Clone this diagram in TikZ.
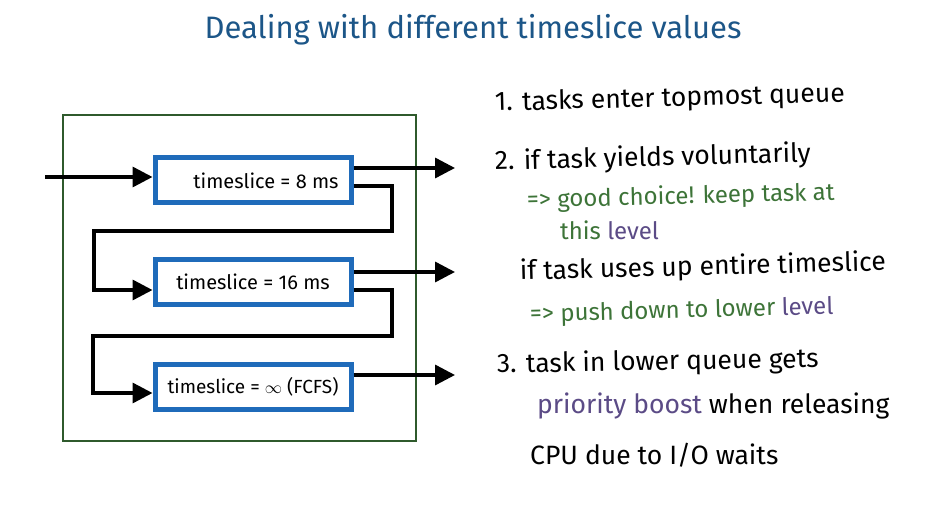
\documentclass[tikz,border=0pt]{standalone}
\usepackage{fontspec}
\setmainfont{Fira Sans}
\usetikzlibrary{arrows.meta,calc}
\definecolor{qblue}{HTML}{1F6BBA}
\definecolor{frame}{HTML}{2F5A2C}
\definecolor{titleblue}{HTML}{1C5688}
\definecolor{notegreen}{HTML}{3D7438}
\definecolor{notepurple}{HTML}{5B4B86}
\begin{document}
\begin{tikzpicture}[x=1pt,y=-1pt,
  queue/.style={draw=qblue,line width=5pt,minimum width=196pt,minimum height=45pt,inner sep=0pt,font=\fontsize{20}{20}\selectfont},
  flow/.style={line width=3.4pt,-{Triangle[length=20pt,width=20pt]}},
  note/.style={anchor=base west,inner sep=0pt,font=\fontsize{26.5}{26.5}\selectfont},
  green note/.style={note,text=notegreen,font=\fontsize{24}{24}\selectfont},
]
\useasboundingbox (0,0) rectangle (925,521);
\fill[white] (0,0) rectangle (925,521);
\node[anchor=base,inner sep=0pt,text=titleblue,font=\fontsize{31}{31}\selectfont] (title) at (473,39) {Dealing with different timeslice values};
\draw[frame,line width=2.4pt] (63,115) rectangle (416,441);
\node[queue] (q1) at (253,180.5) {\hspace*{26pt}timeslice = 8 ms};
\node[queue] (q2) at (253,282) {timeslice = 16 ms};
\node[queue,font=\fontsize{19}{19}\selectfont] (q3) at (253,387) {timeslice = $\infty$ (FCFS)};
% input
\coordinate (in) at (45,177);
\draw[flow] (in) -- (in -| q1.west);
% outputs
\coordinate (o1) at (455,168);
\coordinate (o2) at (455,272);
\coordinate (o3) at (455,375);
\draw[flow] (o1 -| q1.east) -- (o1);
\draw[flow] (o2 -| q2.east) -- (o2);
\draw[flow] (o3 -| q3.east) -- (o3);
% feedback 1 -> 2
\coordinate (a1) at (392,186);
\coordinate (a2) at (94,231);
\coordinate (a3) at (94,290);
\draw[flow] (a1 -| q1.east) -- (a1) -- (a1 |- a2) -- (a2) -- (a3) -- (a3 -| q2.west);
% feedback 2 -> 3
\coordinate (b1) at (392,290);
\coordinate (b2) at (93,336);
\coordinate (b3) at (93,393);
\draw[flow] (b1 -| q2.east) -- (b1) -- (b1 |- b2) -- (b2) -- (b3) -- (b3 -| q3.west);
% notes
\node[note,rotate=1.5] (n1) at (495,111) {1. tasks enter topmost queue};
\node[note,rotate=1.5] (n2) at (495,170) {2. if task yields voluntarily};
\node[green note,rotate=1.5] (n3) at (527,208) {=> good choice! keep task at};
\node[green note] (n4) at (560,240) {this \textcolor{notepurple}{level}};
\node[note,rotate=1.5] (n5) at (520,280) {if task uses up entire timeslice};
\node[green note,rotate=1.5] (n6) at (530,322) {=> push down to lower \textcolor{notepurple}{level}};
\node[note,rotate=1] (n7) at (497,373) {3. task in lower queue gets};
\node[note] (n8) at (537,413) {\textcolor{notepurple}{priority boost} when releasing};
\node[note] (n9) at (530,464) {CPU due to I/O waits};
\end{tikzpicture}
\end{document}
